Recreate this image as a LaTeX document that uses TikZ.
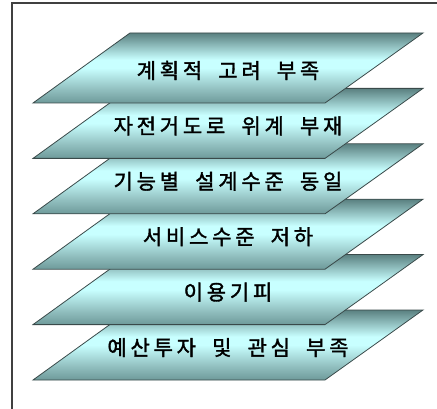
\documentclass[tikz,border=0pt]{standalone}
\usepackage{fontspec}
\newfontfamily\kr[LetterSpace=18,FakeBold=1.6,WordSpace=1.9]{Noto Sans CJK KR}
\definecolor{slabT}{HTML}{5A8080}
\definecolor{slabM}{HTML}{92C0C0}
\definecolor{slabL}{HTML}{C8FFFF}
\definecolor{slabB}{HTML}{6E9A9A}
\definecolor{edge}{HTML}{3A4A4A}
\definecolor{frame}{HTML}{404040}
\pgfdeclareverticalshading{slabshade}{100bp}{color(0bp)=(slabB); color(25bp)=(slabB); color(35bp)=(slabM); color(50bp)=(slabL); color(56bp)=(slabL); color(75bp)=(slabT); color(100bp)=(slabT)}
\tikzset{
  slab/.style={shading=slabshade, draw=edge, line width=0.8pt, line join=miter},
  slabtext/.style={font=\kr\fontsize{21pt}{24pt}\selectfont, text=black, inner sep=0pt},
  framerule/.style={draw=frame, line width=1.2pt}
}
\begin{document}
\begin{tikzpicture}[x=1pt,y=-1pt]
\useasboundingbox (0,0) rectangle (437,409);
\draw[framerule] (12,409) -- (12,3) -- (437,3);
\foreach \i/\txt in {5/{예산투자 및 관심 부족},4/{이용기피},3/{서비스수준 저하},2/{기능별 설계수준 동일},1/{자전거도로 위계 부재},0/{계획적 고려 부족}}{
  \pgfmathsetmacro{\ty}{33+55.4*\i}
  \pgfmathsetmacro{\by}{\ty+70}
  \pgfmathsetmacro{\cy}{\ty+37.5}
  \path[slab] (33,\by) -- (325,\by) -- (423,\ty) -- (130,\ty) -- cycle;
  \node[slabtext] (t\i) at (228,\cy) {\txt};
}
\end{tikzpicture}
\end{document}
